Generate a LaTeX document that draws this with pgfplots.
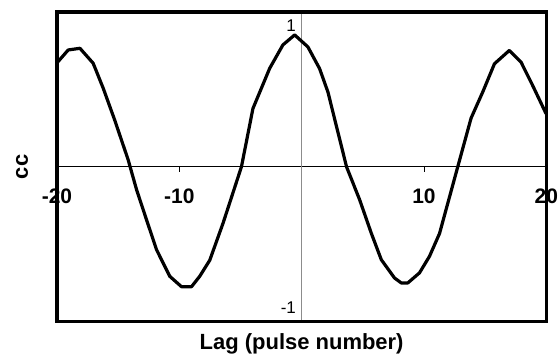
\documentclass[border=0pt]{standalone}
\usepackage{fontspec}
\setmainfont{Liberation Sans}
\usepackage{pgfplots}
\pgfplotsset{compat=1.18}
\begin{document}
\begin{tikzpicture}
\begin{axis}[
  name=ax,
  scale only axis, width=490pt, height=310pt,
  xmin=-20, xmax=20, ymin=-1.1, ymax=1.1,
  axis x line=middle, axis y line=middle,
  axis line style={-},
  x axis line style={-, black, line width=0.8pt},
  y axis line style={-, black!45, line width=0.8pt},
  xtick={-20,-10,0,10,20}, xticklabels={-20,-10,0,10,20},
  ytick={-1,1}, yticklabels={-1,1},
  xtick align=outside,
  major tick length=5pt,
  xtick style={black, line width=0.8pt},
  ytick style={draw=none},
  xticklabel style={anchor=north, yshift=-17pt, inner sep=0pt, font=\bfseries\fontsize{21}{21}\selectfont},
  yticklabel style={anchor=east, xshift=-3pt, inner sep=0pt, font=\fontsize{17}{17}\selectfont},
  clip=true,
]
\addplot[black, line width=3.2pt, line join=round] coordinates {
(-20,0.738) (-19.08,0.830) (-18.12,0.842) (-17.04,0.736) (-16.22,0.559)
(-15.27,0.33) (-14.18,0.05) (-13.49,-0.163) (-12.68,-0.376) (-11.86,-0.589)
(-10.78,-0.778) (-9.82,-0.852) (-9.0,-0.852) (-8.33,-0.778) (-7.51,-0.664)
(-6.42,-0.40) (-4.92,0.0) (-3.98,0.414) (-2.61,0.700) (-1.53,0.866)
(-0.57,0.937) (0.51,0.852) (1.47,0.697) (2.15,0.531) (3.67,0.0)
(4.74,-0.234) (5.69,-0.471) (6.51,-0.660) (7.59,-0.79) (8.14,-0.825)
(8.68,-0.825) (9.63,-0.754) (10.45,-0.636) (11.27,-0.474) (12.76,0.0)
(13.85,0.346) (14.80,0.531) (15.76,0.732) (16.98,0.827) (17.93,0.744)
(18.88,0.578) (19.98,0.377)
};
\end{axis}
\draw[line width=3.5pt] (ax.south west) rectangle (ax.north east);
\node[rotate=90, anchor=center, font=\bfseries\fontsize{22}{22}\selectfont] at ([xshift=-35pt]ax.west) {cc};
\node[anchor=north, inner sep=0pt, font=\bfseries\fontsize{22}{22}\selectfont] at ([yshift=-12pt]ax.south) {Lag (pulse number)};
\path ([xshift=-57pt, yshift=-36pt]ax.south west);
\path ([xshift=11pt, yshift=12pt]ax.north east);
\end{tikzpicture}
\end{document}
